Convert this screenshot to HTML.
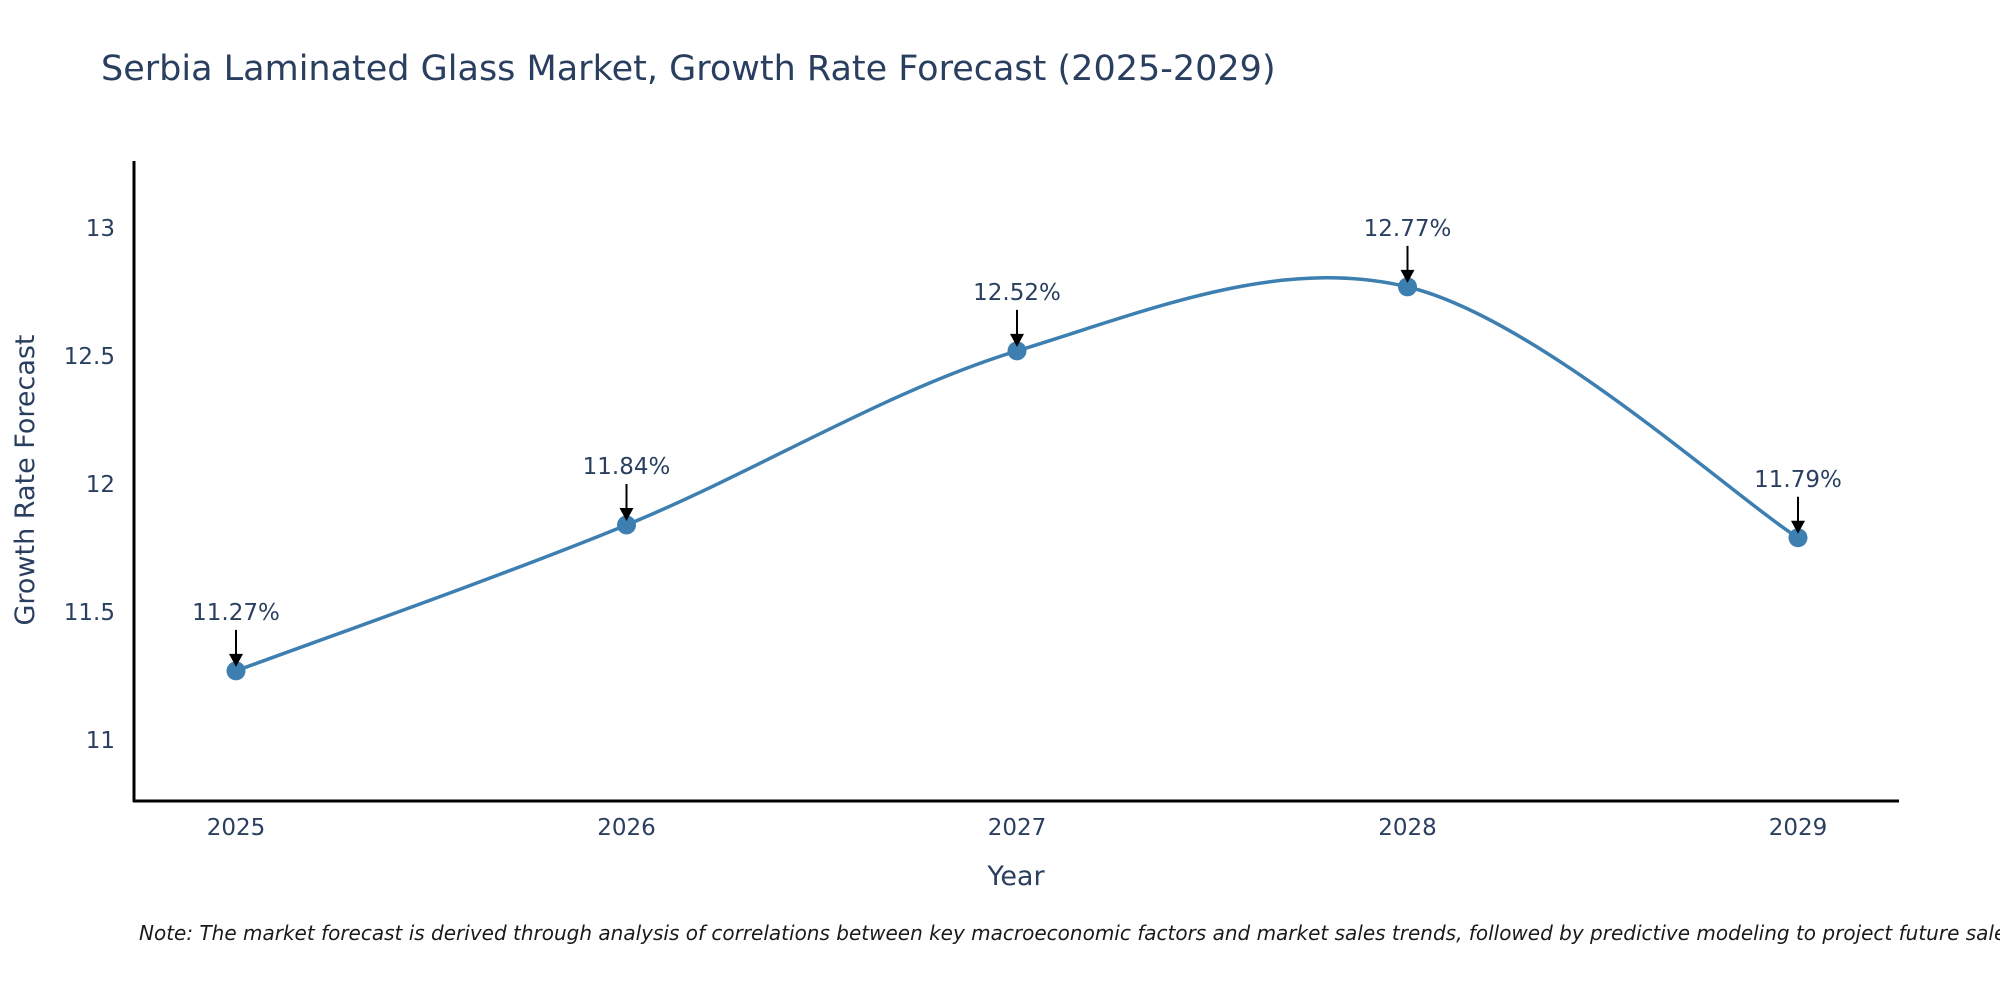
<!DOCTYPE html>
<html><head><meta charset="utf-8"><style>
body{margin:0;background:#fff;}
svg{font-family:"DejaVu Sans","Liberation Sans",sans-serif;display:block}
</style></head><body>
<svg id="chart" width="2000" height="1000" viewBox="0 0 2000 1000">
<text x="101" y="80" font-size="35" fill="#2a3f5f">Serbia Laminated Glass Market, Growth Rate Forecast (2025-2029)</text>
<line x1="134" y1="161" x2="134" y2="802" stroke="#000" stroke-width="3"/>
<line x1="133" y1="801" x2="1899" y2="801" stroke="#000" stroke-width="3"/>
<g id="yticks"></g><g id="xticks"></g>
<text transform="translate(34,480) rotate(-90)" text-anchor="middle" font-size="27" fill="#2a3f5f">Growth Rate Forecast</text>
<text x="1016" y="885" text-anchor="middle" font-size="27" fill="#2a3f5f">Year</text>
<path id="line" fill="none" stroke="#3d7fb0" stroke-width="3.5"/>
<g id="marks"></g>
<text x="139" y="940" font-size="20" font-style="italic" fill="#1a1a1a">Note: The market forecast is derived through analysis of correlations between key macroeconomic factors and market sales trends, followed by predictive modeling to project future sales.</text>
</svg>
<script>
const years = ["2025","2026","2027","2028","2029"];
const values = [11.27, 11.84, 12.52, 12.77, 11.79];
const labels = ["11.27%","11.84%","12.52%","12.77%","11.79%"];
const yTicks = [11, 11.5, 12, 12.5, 13];
const yTickLabels = ["11","11.5","12","12.5","13"];
const NS="http://www.w3.org/2000/svg";
function xs(i){return 236+390.5*i;}
function ys(v){return 228+(13-v)*256;}
function mk(tag,attrs,parent){const e=document.createElementNS(NS,tag);for(const k in attrs)e.setAttribute(k,attrs[k]);parent.appendChild(e);return e;}
const yt=document.getElementById('yticks');
yTicks.forEach((v,i)=>{const t=mk('text',{x:115,y:ys(v)+8,'text-anchor':'end','font-size':23,fill:'#2a3f5f'},yt);


t.textContent=yTickLabels[i];});
const xt=document.getElementById('xticks');
years.forEach((y,i)=>{const t=mk('text',{x:xs(i),y:835,'text-anchor':'middle','font-size':23,fill:'#2a3f5f'},xt);


t.textContent=y;});
const P=values.map((v,i)=>[xs(i),ys(v)]);
let d='M'+P[0][0]+','+P[0][1];
for(let i=0;i<P.length-1;i++){const p0=P[Math.max(0,i-1)],p1=P[i],p2=P[i+1],p3=P[Math.min(P.length-1,i+2)];
const c1=[p1[0]+(p2[0]-p0[0])/6,p1[1]+(p2[1]-p0[1])/6],c2=[p2[0]-(p3[0]-p1[0])/6,p2[1]-(p3[1]-p1[1])/6];
d+=' C'+c1+' '+c2+' '+p2;}
document.getElementById('line').setAttribute('d',d);
const g=document.getElementById('marks');
P.forEach((p,i)=>{
const c=mk('circle',{cx:p[0],cy:p[1],r:9.5,fill:'#3d7fb0'},g);


const l=mk('line',{x1:p[0],y1:p[1]-41,x2:p[0],y2:p[1]-16,stroke:'#000','stroke-width':2},g);


const h=mk('polygon',{points:(p[0]-7)+','+(p[1]-17)+' '+(p[0]+7)+','+(p[1]-17)+' '+p[0]+','+(p[1]-4),fill:'#000'},g);


const t=mk('text',{x:p[0],y:p[1]-51,'text-anchor':'middle','font-size':23,fill:'#2a3f5f'},g);


t.textContent=labels[i];
});
</script>
</body></html>
